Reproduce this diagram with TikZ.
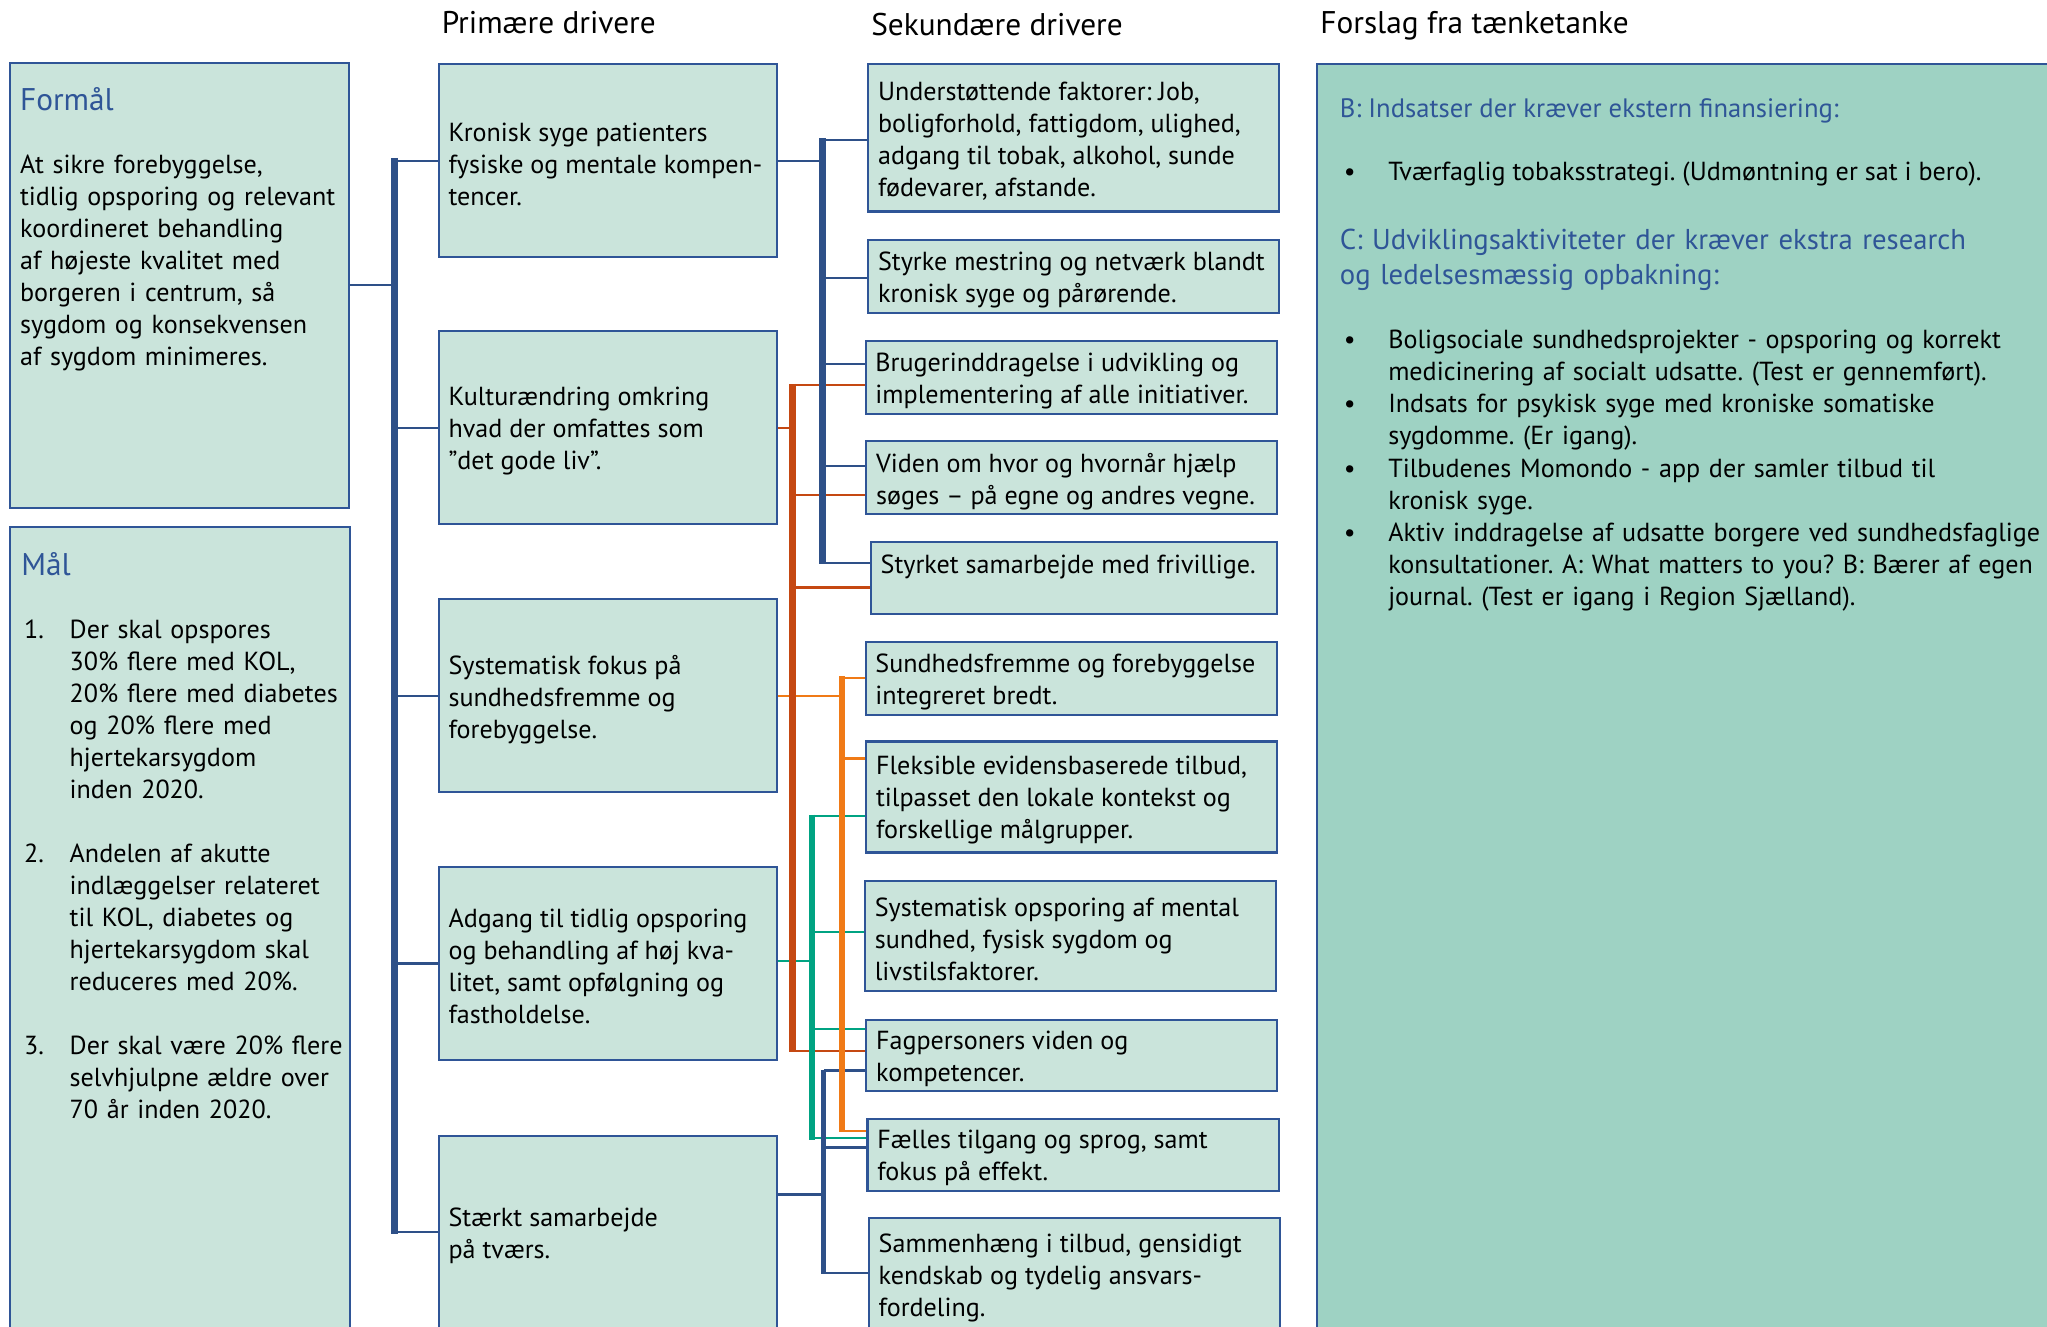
\documentclass[tikz,border=0pt]{standalone}
\usepackage{fontspec}
\setmainfont{PT Sans}
\usetikzlibrary{calc}
\frenchspacing

\definecolor{boxfill}{HTML}{CAE4DB}
\definecolor{panelfill}{HTML}{9ED2C3}
\definecolor{boxline}{HTML}{2F5597}
\definecolor{headblue}{HTML}{2F5597}
\definecolor{cblue}{HTML}{2E5088}
\definecolor{cred}{HTML}{C54812}
\definecolor{corange}{HTML}{F07A16}
\definecolor{cteal}{HTML}{00A382}

% one branch from a trunk coordinate to the west side of a box, at height y
\newcommand\linkto[4]{\draw[#1] (#2 |- 0,#4) -- (#3.west |- 0,#4);}

\begin{document}
\begin{tikzpicture}[x=0.5pt,y=-0.5pt,
  frame/.style={draw=boxline, line width=0.8pt, fill=boxfill, inner sep=0pt},
  pframe/.style={frame, minimum width=129.5pt, minimum height=74pt},
  sframe/.style={frame, minimum width=157.5pt},
  body/.style={font=\fontsize{10}{12.25}\selectfont, inner sep=0pt, align=left},
  lbl/.style={body, anchor=west, xshift=4pt, yshift=-1.3pt},
  head/.style={font=\fontsize{12}{14}\selectfont, inner sep=0pt, anchor=base west},
  ttl/.style={font=\fontsize{12}{14}\selectfont, text=headblue, inner sep=0pt, anchor=base west},
  thinb/.style={draw=cblue, line width=0.8pt},
  thickb/.style={draw=cblue, line width=2.6pt},
  thinr/.style={draw=cred, line width=0.8pt},
  thickr/.style={draw=cred, line width=2.5pt},
  thino/.style={draw=corange, line width=0.8pt},
  thicko/.style={draw=corange, line width=2.5pt},
  thint/.style={draw=cteal, line width=0.8pt},
  thickt/.style={draw=cteal, line width=2.5pt},
  thickl/.style={draw=cblue, line width=1.8pt}]
\useasboundingbox (0,0) rectangle (1568,1016);
\clip (0,0) rectangle (1568,1016);

% column headings
\node[head] (h1) at (338,26) {Primære drivere};
\node[head] (h2) at (667,27) {Sekundære drivere};
\node[head] (h3) at (1011,26) {Forslag fra tænketanke};

% purpose and goals
\node[frame, minimum width=129.5pt, minimum height=170.5pt] (formal) at (137.5,218.5) {};
\node[ttl] (formalh) at (15,85) {Formål};
\node[body, anchor=base west, text width=130pt] (formalt) at (15,133)
  {At sikre forebyggelse,\\tidlig opsporing og relevant\\koordineret behandling\\af højeste kvalitet med\\borgeren i centrum, så\\sygdom og konsekvensen\\af sygdom minimeres.};

\node[frame, minimum width=130pt, minimum height=320pt] (maal) at (138,724) {};
\node[ttl] (maalh) at (16,441) {Mål};
\node[body, anchor=base west] (n1) at (18,489) {1.};
\node[body, anchor=base west] (n2) at (18,660.5) {2.};
\node[body, anchor=base west] (n3) at (18,807.5) {3.};
\node[body, anchor=base west, text width=120pt] (maalt) at (53,489)
  {Der skal opspores\\30\% flere med KOL,\\20\% flere med diabetes\\og 20\% flere med\\hjertekarsygdom\\inden 2020.\\[12.25pt]Andelen af akutte\\indlæggelser relateret\\til KOL, diabetes og\\hjertekarsygdom skal\\reduceres med 20\%.\\[12.25pt]Der skal være 20\% flere\\selvhjulpne ældre over\\70 år inden 2020.};

% primary drivers
\node[pframe] (p1) at (465.5,123) {};
\node[pframe] (p2) at (465.5,327.5) {};
\node[pframe] (p3) at (465.5,533) {};
\node[pframe] (p4) at (465.5,738) {};
\node[pframe] (p5) at (465.5,944) {};
\node[lbl] (p1t) at (p1.west) {Kronisk syge patienters\\fysiske og mentale kompen-\\tencer.};
\node[lbl] (p2t) at (p2.west) {Kulturændring omkring\\hvad der omfattes som\\”det gode liv”.};
\node[lbl] (p3t) at (p3.west) {Systematisk fokus på\\sundhedsfremme og\\forebyggelse.};
\node[lbl] (p4t) at (p4.west) {Adgang til tidlig opsporing\\og behandling af høj kva-\\litet, samt opfølgning og\\fastholdelse.};
\node[lbl] (p5t) at (p5.west) {Stærkt samarbejde\\på tværs.};

% secondary drivers
\node[sframe, minimum height=56.5pt] (s1) at (822.5,105.5) {};
\node[sframe, minimum height=28pt] (s2) at (822.5,212) {};
\node[sframe, minimum height=28pt] (s3) at (820.5,289) {};
\node[sframe, minimum height=28pt] (s4) at (821,366) {};
\node[sframe, minimum height=27.5pt, minimum width=155.5pt] (s5) at (822.5,442.5) {};
\node[sframe, minimum height=28pt] (s6) at (820.5,520) {};
\node[sframe, minimum height=42.5pt] (s7) at (821,610.5) {};
\node[sframe, minimum height=42pt] (s8) at (820,717) {};
\node[sframe, minimum height=27.5pt] (s9) at (821,808.5) {};
\node[sframe, minimum height=27.5pt] (s10) at (822,884.5) {};
\node[sframe, minimum height=43pt] (s11) at (823,976) {};
\node[lbl] (s1t) at (s1.west) {Understøttende faktorer: Job,\\boligforhold, fattigdom, ulighed,\\adgang til tobak, alkohol, sunde\\fødevarer, afstande.};
\node[lbl] (s2t) at (s2.west) {Styrke mestring og netværk blandt\\kronisk syge og pårørende.};
\node[lbl] (s3t) at (s3.west) {Brugerinddragelse i udvikling og\\implementering af alle initiativer.};
\node[lbl] (s4t) at (s4.west) {Viden om hvor og hvornår hjælp\\søges – på egne og andres vegne.};
\node[lbl, yshift=5.5pt] (s5t) at (s5.west) {Styrket samarbejde med frivillige.};
\node[lbl] (s6t) at (s6.west) {Sundhedsfremme og forebyggelse\\integreret bredt.};
\node[lbl] (s7t) at (s7.west) {Fleksible evidensbaserede tilbud,\\tilpasset den lokale kontekst og\\forskellige målgrupper.};
\node[lbl] (s8t) at (s8.west) {Systematisk opsporing af mental\\sundhed, fysisk sygdom og\\livstilsfaktorer.};
\node[lbl] (s9t) at (s9.west) {Fagpersoners viden og\\kompetencer.};
\node[lbl] (s10t) at (s10.west) {Fælles tilgang og sprog, samt\\fokus på effekt.};
\node[lbl] (s11t) at (s11.west) {Sammenhæng i tilbud, gensidigt\\kendskab og tydelig ansvars-\\fordeling.};

% think-tank proposals
\node[draw=boxline, line width=0.8pt, fill=panelfill, minimum width=300pt, minimum height=500pt, inner sep=0pt] (panel) at (1309,549) {};
\node[font=\fontsize{10.2}{12}\selectfont, text=headblue, inner sep=0pt, anchor=base west] (bh) at (1026,90) {B: Indsatser der kræver ekstern finansiering:};
\node[body, anchor=base west] (bb) at (1029,138) {•};
\node[body, anchor=base west] (bt) at (1063,138) {Tværfaglig tobaksstrategi. (Udmøntning er sat i bero).};
\node[font=\fontsize{11}{13.5}\selectfont, text=headblue, inner sep=0pt, align=left, anchor=base west, text width=280pt] (ch) at (1026,191)
  {C: Udviklingsaktiviteter der kræver ekstra research\\og ledelsesmæssig opbakning:};
\node[font=\fontsize{10}{12.3}\selectfont, inner sep=0pt, align=left, anchor=base west, text width=20pt] (cb) at (1029,267)
  {•\\\mbox{}\\•\\\mbox{}\\•\\\mbox{}\\•};
\node[font=\fontsize{10}{12.3}\selectfont, inner sep=0pt, align=left, anchor=base west, text width=280pt] (ct) at (1063,267)
  {Boligsociale sundhedsprojekter - opsporing og korrekt\\medicinering af socialt udsatte. (Test er gennemført).\\Indsats for psykisk syge med kroniske somatiske\\sygdomme. (Er igang).\\Tilbudenes Momondo - app der samler tilbud til\\kronisk syge.\\Aktiv inddragelse af udsatte borgere ved sundhedsfaglige\\konsultationer. A: What matters to you? B: Bærer af egen\\journal. (Test er igang i Region Sjælland).};

% trunk positions
\coordinate (mx) at (302,0);
\coordinate (bx) at (630,0);
\coordinate (rx) at (607,0);
\coordinate (ox) at (645,0);
\coordinate (tx) at (622,0);
\coordinate (lx) at (631,0);

% main tree: purpose to primary drivers
\draw[thinb] (formal.east) -- (formal.east -| mx);
\foreach \p in {p1,p2,p3,p4,p5} {\draw[thinb] (\p.west) -- (\p.west -| mx);}
\draw[thickb] (mx |- 0,121) -- (mx |- 0,945.5);

% branches from primary to secondary drivers
\draw[thinb] (p1.east) -- (p1.east -| bx);
\linkto{thinb}{bx}{s1}{107}
\linkto{thinb}{bx}{s2}{213}
\linkto{thinb}{bx}{s3}{279}
\linkto{thinb}{bx}{s4}{357}
\linkto{thinb}{bx}{s5}{431}

\draw[thinr] (p2.east) -- (p2.east -| rx);
\linkto{thinr}{rx}{s3}{295}
\linkto{thinr}{rx}{s4}{379}
\linkto{thinr}{rx}{s5}{450}
\linkto{thinr}{rx}{s9}{805}

\draw[thino] (p3.east) -- (p3.east -| ox);
\linkto{thino}{ox}{s6}{519}
\linkto{thino}{ox}{s7}{581}
\linkto{thino}{ox}{s10}{866}

\draw[thint] (p4.east |- 0,736) -- (tx |- 0,736);
\linkto{thint}{tx}{s7}{625}
\linkto{thint}{tx}{s8}{714}
\linkto{thint}{tx}{s9}{788}
\linkto{thint}{tx}{s10}{872}

\draw[thinb] (p5.east |- 0,915) -- (lx |- 0,915);
\linkto{thinb}{lx}{s9}{820}
\linkto{thinb}{lx}{s10}{879}
\linkto{thinb}{lx}{s11}{975}

% trunks
\draw[thickb] (bx |- 0,106) -- (bx |- 0,432);
\draw[thickr] (rx |- 0,294) -- (rx |- 0,806);
\draw[thickt] (tx |- 0,624) -- (tx |- 0,873);
\draw[thickl] (lx |- 0,819.5) -- (lx |- 0,975.5);
\draw[thicko] (ox |- 0,518) -- (ox |- 0,867);
\end{tikzpicture}
\end{document}
